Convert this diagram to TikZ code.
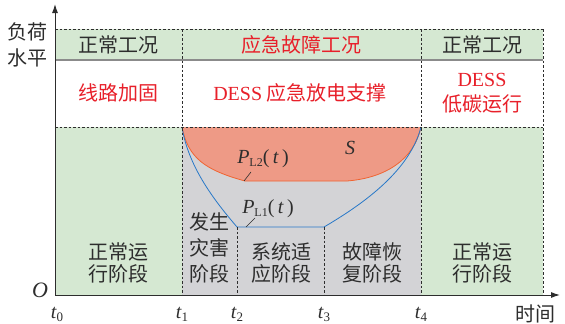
\documentclass[tikz,border=0pt]{standalone}
\usepackage{fontspec}
\setmainfont{Liberation Serif}
\newfontfamily\cjk{Noto Sans CJK SC}
\usetikzlibrary{arrows.meta}
\definecolor{bggreen}{RGB}{213,232,210}
\definecolor{bggray}{RGB}{211,211,214}
\definecolor{orfill}{RGB}{238,154,134}
\definecolor{orline}{RGB}{240,100,50}
\definecolor{bline}{RGB}{40,120,200}
\definecolor{redtxt}{RGB}{232,32,42}
\definecolor{txt}{RGB}{45,45,45}
\tikzset{
  cn/.style={font=\cjk\fontsize{20}{22}\selectfont, text=txt, inner sep=0pt},
  cnred/.style={font=\cjk\fontsize{20}{22}\selectfont, text=redtxt, inner sep=0pt},
  lat/.style={font=\fontsize{20}{22}\selectfont, text=txt, inner sep=0pt},
  dsh/.style={draw=txt, dash pattern=on 2.5pt off 2pt, line width=0.7pt},
}
\begin{document}
\begin{tikzpicture}[x=1pt,y=-1pt]
\useasboundingbox (0,0) rectangle (565,324);
% backgrounds
\fill[bggreen] (55,29) rectangle (543,60);
\fill[white] (55,60) rectangle (543,127);
\fill[bggreen] (55,127) rectangle (182,295);
\fill[bggray] (182,127) rectangle (421,295);
\fill[bggreen] (421,127) rectangle (543,295);
% orange region
\coordinate (a) at (182,127);
\coordinate (b) at (421,127);
\coordinate (o1) at (245,181);
\coordinate (o2) at (347,181);
\coordinate (u1) at (237,227);
\coordinate (u2) at (324,227);
\filldraw[fill=orfill, draw=orline, line width=0.8pt] (a) .. controls (188,158) and (205,170) .. (o1) -- (o2) .. controls (385,178) and (414,160) .. (b);
\draw[bline, line width=0.8pt] (a) .. controls (188,165) and (212,198) .. (u1) -- (u2) .. controls (365,203) and (410,170) .. (b);
% grid lines
\draw[txt!55, line width=1.2pt] (55,60) -- (543,60);
\draw[dsh] (55,29) -- (543,29);
\draw[dsh] (55,127) -- (543,127);
\draw[dsh] (182,29) -- (182,295);
\draw[dsh] (421,29) -- (421,295);
\draw[dsh] (543,29) -- (543,295);
\draw[dsh] (237,227) -- (237,295);
\draw[dsh] (324,227) -- (324,295);
% axes
\coordinate (O) at (55,295);
\coordinate (ytop) at (55,4);
\coordinate (xend) at (560,295);
\draw[txt, line width=1pt, -{Latex[length=9pt,width=6pt]}] (O) -- (ytop);
\draw[txt, line width=1pt, -{Latex[length=9pt,width=6pt]}] (O) -- (xend);
% leaders
\coordinate (l2a) at (244,181);
\coordinate (l2b) at (251,172);
\coordinate (l1a) at (246,227);
\coordinate (l1b) at (255,218);
\draw[txt, line width=0.6pt] (l2a) -- (l2b);
\draw[txt, line width=0.6pt] (l1a) -- (l1b);
% texts
\node[cn] (y1) at (28,32) {负荷};
\node[cn] (y2) at (28,58) {水平};
\node[cn] (h1) at (118,45) {正常工况};
\node[cnred] (h2) at (301,45) {应急故障工况};
\node[cn] (h3) at (482,45) {正常工况};
\node[cnred] (m1) at (118,93) {线路加固};
\node[cnred] (m2) at (300,93) {{\fontspec{Liberation Serif}DESS} 应急放电支撑};
\node[cnred] (m3a) at (482,80) {\fontspec{Liberation Serif}DESS};
\node[cnred] (m3b) at (482,104) {低碳运行};
\node[lat, font=\itshape\fontsize{20}{22}\selectfont] (S) at (350,148) {S};
\node[lat] (p2) at (263,159) {\textit{P}\raisebox{-3pt}{\fontsize{12}{12}\selectfont L2}(\,\textit{t}\,)};
\node[lat] (p1) at (268,209) {\textit{P}\raisebox{-3pt}{\fontsize{12}{12}\selectfont L1}(\,\textit{t}\,)};
\node[cn] (s1a) at (118,252) {正常运};
\node[cn] (s1b) at (118,274) {行阶段};
\node[cn] (s2a) at (209,222) {发生};
\node[cn] (s2b) at (209,248) {灾害};
\node[cn] (s2c) at (209,274) {阶段};
\node[cn] (s3a) at (281,252) {系统适};
\node[cn] (s3b) at (281,274) {应阶段};
\node[cn] (s4a) at (372,252) {故障恢};
\node[cn] (s4b) at (372,274) {复阶段};
\node[cn] (s5a) at (482,252) {正常运};
\node[cn] (s5b) at (482,274) {行阶段};
\node[lat, font=\itshape\fontsize{22}{24}\selectfont] (Ol) at (40,290) {O};
\node[lat] (t0) at (57,314) {\textit{t}\raisebox{-3pt}{\fontsize{13}{13}\selectfont 0}};
\node[lat] (t1) at (182,314) {\textit{t}\raisebox{-3pt}{\fontsize{13}{13}\selectfont 1}};
\node[lat] (t2) at (237,314) {\textit{t}\raisebox{-3pt}{\fontsize{13}{13}\selectfont 2}};
\node[lat] (t3) at (324,314) {\textit{t}\raisebox{-3pt}{\fontsize{13}{13}\selectfont 3}};
\node[lat] (t4) at (421,314) {\textit{t}\raisebox{-3pt}{\fontsize{13}{13}\selectfont 4}};
\node[cn] (tm) at (535,314) {时间};
\end{tikzpicture}
\end{document}
